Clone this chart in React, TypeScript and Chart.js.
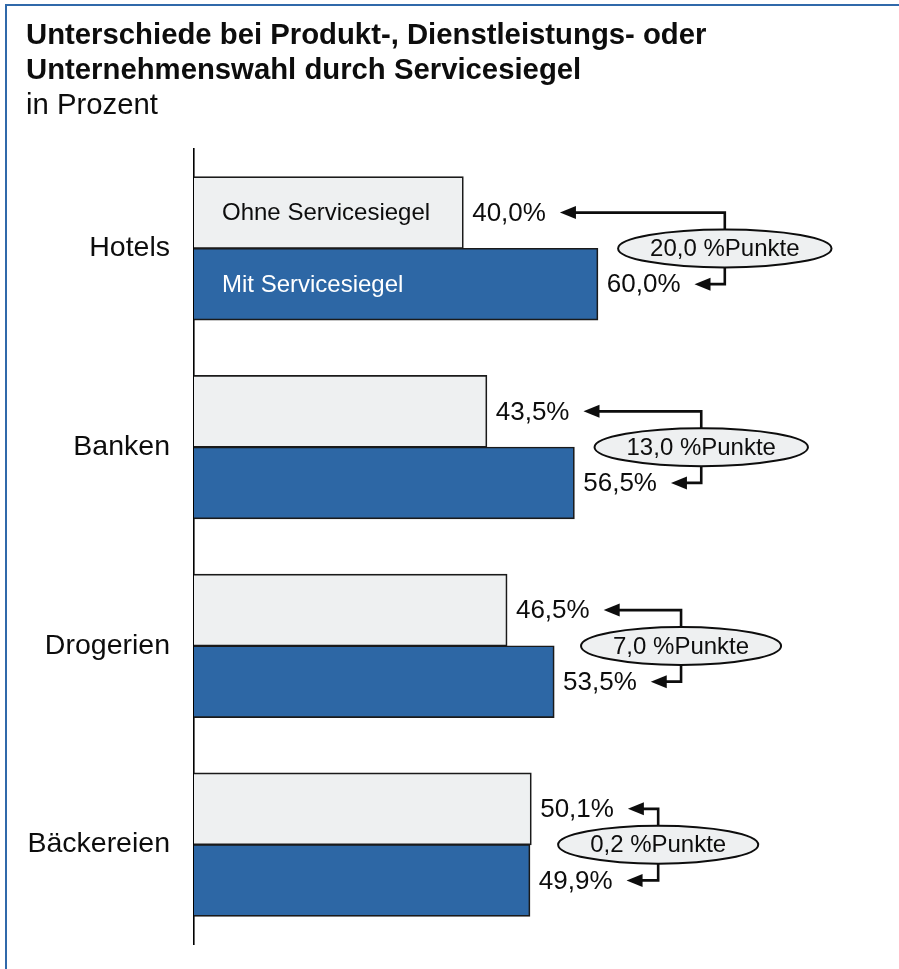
import React, { useEffect, useRef } from "react";
import { Chart, registerables } from "chart.js";

Chart.register(...registerables);

const categories = ["Hotels", "Banken", "Drogerien", "Bäckereien"];
const seriesNames = ["Ohne Servicesiegel", "Mit Servicesiegel"];
const ohneValues = [40.0, 43.5, 46.5, 50.1];
const mitValues = [60.0, 56.5, 53.5, 49.9];
const xMin = 0;
const xMax = 100;

const FONT = '"Liberation Sans", Arial, Helvetica, sans-serif';
const LIGHT = "#eef0f1";
const BLUE = "#2d67a5";
const FRAME = "#3069aa";
const INK = "#0d0d0d";

const fmt = (v: number) => v.toFixed(1).replace(".", ",");

const annotPlugin = {
  id: "annot",
  afterDatasetsDraw(chart: any) {
    const ctx = chart.ctx as CanvasRenderingContext2D;
    const m0 = chart.getDatasetMeta(0);
    const m1 = chart.getDatasetMeta(1);
    ctx.save();
    ctx.textBaseline = "middle";
    ctx.textAlign = "left";

    // series names inside first category bars
    const f0 = m0.data[0];
    const f1 = m1.data[0];
    ctx.font = `24px ${FONT}`;
    ctx.fillStyle = INK;
    ctx.fillText(seriesNames[0], f0.base + 28, f0.y + 1);
    ctx.fillStyle = "#ffffff";
    ctx.fillText(seriesNames[1], f1.base + 28, f1.y + 1);

    categories.forEach((_, j) => {
      const a = m0.data[j];
      const b = m1.data[j];
      const la = fmt(ohneValues[j]) + "%";
      const lb = fmt(mitValues[j]) + "%";
      const diff = fmt(Math.abs(mitValues[j] - ohneValues[j])) + " %Punkte";

      ctx.font = `26px ${FONT}`;
      ctx.fillStyle = INK;
      ctx.textAlign = "left";
      const xa = a.x + 9;
      const xb = b.x + 9;
      ctx.fillText(la, xa, a.y + 1);
      ctx.fillText(lb, xb, b.y + 1);
      const ta = xa + ctx.measureText(la).width + 14;
      const tb = xb + ctx.measureText(lb).width + 14;

      const cx = Math.max(a.x, b.x) + 127;
      const cy = (a.y + b.y) / 2;
      ctx.font = `24px ${FONT}`;
      const tw = ctx.measureText(diff).width;
      const rx = tw / 2 + 32;
      const ry = 19;

      // connectors
      ctx.strokeStyle = INK;
      ctx.lineWidth = 2.6;
      ctx.lineJoin = "miter";
      ctx.beginPath();
      ctx.moveTo(ta + 12, a.y);
      ctx.lineTo(cx, a.y);
      ctx.lineTo(cx, cy);
      ctx.moveTo(tb + 12, b.y);
      ctx.lineTo(cx, b.y);
      ctx.lineTo(cx, cy);
      ctx.stroke();

      // arrow heads
      ctx.fillStyle = INK;
      [
        [ta, a.y],
        [tb, b.y],
      ].forEach(([tx, ty]) => {
        ctx.beginPath();
        ctx.moveTo(tx, ty);
        ctx.lineTo(tx + 16, ty - 6.5);
        ctx.lineTo(tx + 16, ty + 6.5);
        ctx.closePath();
        ctx.fill();
      });

      // ellipse
      ctx.beginPath();
      ctx.ellipse(cx, cy, rx, ry, 0, 0, Math.PI * 2);
      ctx.fillStyle = LIGHT;
      ctx.fill();
      ctx.lineWidth = 2;
      ctx.strokeStyle = INK;
      ctx.stroke();

      ctx.fillStyle = INK;
      ctx.textAlign = "center";
      ctx.fillText(diff, cx, cy + 1);
    });
    ctx.restore();
  },
};

function BarChart() {
  const ref = useRef<HTMLCanvasElement | null>(null);
  useEffect(() => {
    if (!ref.current) return;
    const chart = new Chart(ref.current, {
      type: "bar",
      data: {
        labels: categories,
        datasets: [
          {
            label: seriesNames[0],
            data: ohneValues,
            backgroundColor: LIGHT,
            borderColor: "#1a1a1a",
            borderWidth: 1.7,
            inflateAmount: 0.5,
            categoryPercentage: 0.72,
            barPercentage: 1,
          },
          {
            label: seriesNames[1],
            data: mitValues,
            backgroundColor: BLUE,
            borderColor: "#1a1a1a",
            borderWidth: 1.7,
            inflateAmount: 0.5,
            categoryPercentage: 0.72,
            barPercentage: 1,
          },
        ],
      },
      options: {
        indexAxis: "y",
        responsive: false,
        animation: false,
        devicePixelRatio: 1,
        layout: { padding: { left: 0, right: 32, top: 149, bottom: 25 } },
        plugins: {
          legend: { display: false },
          tooltip: { enabled: false },
          title: { display: false },
        },
        scales: {
          x: { display: false, min: xMin, max: xMax },
          y: {
            afterFit: (s: any) => {
              s.width = 194;
              s.paddingTop = 0;
              s.paddingBottom = 0;
            },
            grid: { display: false, drawTicks: false },
            border: { display: true, color: "#000000", width: 1.6 },
            ticks: {
              color: INK,
              padding: 24,
              font: { family: FONT, size: 28.5 },
            },
          },
        },
      } as any,
      plugins: [annotPlugin],
    });
    return () => chart.destroy();
  }, []);
  return (
    <canvas
      ref={ref}
      width={899}
      height={969}
      style={{ position: "absolute", left: 0, top: 0, width: 899, height: 969 }}
    />
  );
}

export default function App() {
  return (
    <div
      style={{
        position: "fixed",
        left: 0,
        top: 0,
        width: 899,
        height: 969,
        overflow: "hidden",
        background: "#ffffff",
      }}
    >
      <div
        style={{
          position: "absolute",
          left: 5,
          top: 4,
          width: 1000,
          height: 1100,
          border: `2px solid ${FRAME}`,
          boxSizing: "border-box",
        }}
      />
      <BarChart />
      <div
        style={{
          position: "absolute",
          left: 26,
          top: 16,
          fontFamily: FONT,
          fontSize: 29.3,
          lineHeight: "35px",
          color: INK,
          whiteSpace: "nowrap",
        }}
      >
        <div style={{ fontWeight: "bold" }}>Unterschiede bei Produkt-, Dienstleistungs- oder</div>
        <div style={{ fontWeight: "bold" }}>Unternehmenswahl durch Servicesiegel</div>
        <div>in Prozent</div>
      </div>
    </div>
  );
}
